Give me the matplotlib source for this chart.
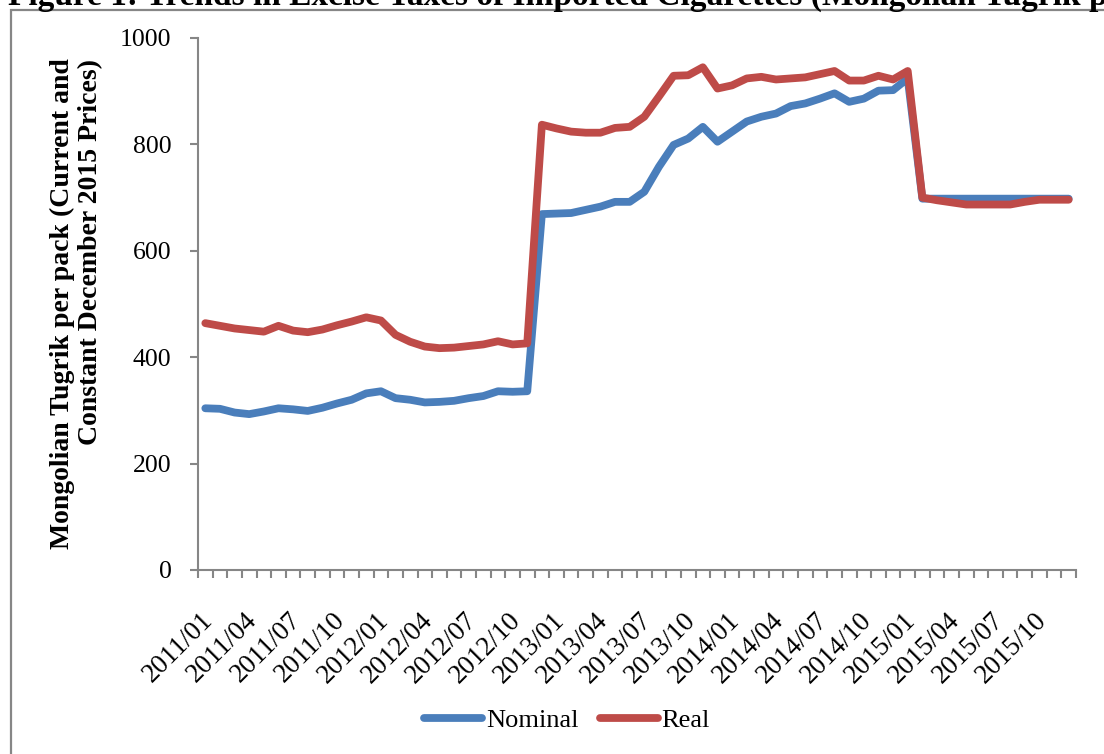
"""
Excise taxes of imported cigarettes, nominal vs real (Mongolian Tugrik)
"""

import numpy as np
import matplotlib
matplotlib.use("Agg")
import matplotlib.pyplot as plt
import matplotlib.transforms as mtransforms
from matplotlib.patches import Rectangle

#--------------------------------------------------------------

years = [2011, 2012, 2013, 2014, 2015]
months = [f"{y}/{m:02d}" for y in years for m in range(1, 13)]

nominal = [304, 303, 296, 293, 298, 304, 302, 299, 305, 313,
           320, 332, 336, 323, 320, 315, 316, 318, 323, 327,
           336, 335, 336,
           669, 670, 671, 677, 683, 692, 692, 711, 758, 799,
           811, 833, 805, 824, 843, 852, 858, 872, 877, 886,
           896, 880, 886, 901, 902, 924,
           698, 698, 698, 698, 698, 698, 698, 698, 698, 698, 698]

real = [464, 459, 454, 451, 448, 459, 450, 447, 452, 460,
        467, 475, 469, 442, 429, 420, 417, 418, 421, 424,
        430, 424, 426,
        837, 830, 824, 822, 822, 831, 833, 852, 890, 929,
        930, 945, 905, 911, 924, 927, 922, 924, 926, 932,
        938, 920, 920, 929, 922, 938,
        700, 695, 691, 687, 687, 687, 687, 692, 696, 696, 696]

y_ticks = [0, 200, 400, 600, 800, 1000]

BLUE = "#4a7ebb"
RED = "#be4b48"
GREY = "#868686"
SERIF = "Liberation Serif"

#--------------------------------------------------------------

fig = plt.figure(figsize=(11.04, 7.54), dpi=100)

# frame round the whole chart (runs off the right and bottom edges)
fig.patches.append(Rectangle((11/1104, -0.1), 1.2, 1 - 10/754 + 0.1,
                             transform=fig.transFigure, fill=False,
                             edgecolor=GREY, linewidth=1.6))

# caption sits above the frame and is clipped by the page, as in the source
fig.text(8/1104, 1 - 5/754,
         "Figure 1: Trends in Excise Taxes of Imported Cigarettes (Mongolian Tugrik per pack)",
         family=SERIF, weight="bold", fontsize=24, va="baseline", ha="left")

ax = fig.add_axes([198/1104, 1 - 570/754, 878/1104, 532/754])

x = np.arange(len(months))
ax.plot(x, nominal, color=BLUE, lw=5.6, solid_joinstyle="round",
        solid_capstyle="round", label="Nominal")
ax.plot(x, real, color=RED, lw=5.6, solid_joinstyle="round",
        solid_capstyle="round", label="Real")

ax.set_xlim(-0.5, len(months) - 0.5)
ax.set_ylim(0, 1000)

for side in ["top", "right"]:
    ax.spines[side].set_visible(False)
for side in ["left", "bottom"]:
    ax.spines[side].set_color(GREY)
    ax.spines[side].set_linewidth(1.5)

ax.set_yticks(y_ticks)
ax.set_yticklabels([str(v) for v in y_ticks], family=SERIF, fontsize=18.5)
ax.tick_params(axis="y", length=6, width=1.5, color=GREY, pad=13)

ax.set_xticks(x[::3])
ax.set_xticklabels(months[::3], rotation=45, ha="right",
                   rotation_mode="anchor", family=SERIF, fontsize=19.5)
ax.tick_params(axis="x", which="major", length=0, pad=27)
shift = mtransforms.ScaledTranslation(-5/100, 0, fig.dpi_scale_trans)
for lab in ax.get_xticklabels():
    lab.set_transform(lab.get_transform() + shift)
ax.set_xticks(np.arange(len(months) + 1) - 0.5, minor=True)
ax.tick_params(axis="x", which="minor", length=6, width=1.5, color=GREY)

ax.set_ylabel("Mongolian Tugrik per pack (Current and\nConstant December 2015 Prices)",
              family=SERIF, weight="bold", fontsize=20, linespacing=1.2,
              multialignment="right", labelpad=12)

fig.legend(loc="center", bbox_to_anchor=(567/1104, 1 - 720/754), ncol=2,
           frameon=False, prop={"family": SERIF, "size": 19},
           handlelength=2.2, handletextpad=0.15, columnspacing=0.8)

fig.savefig("out.png", dpi=100)
